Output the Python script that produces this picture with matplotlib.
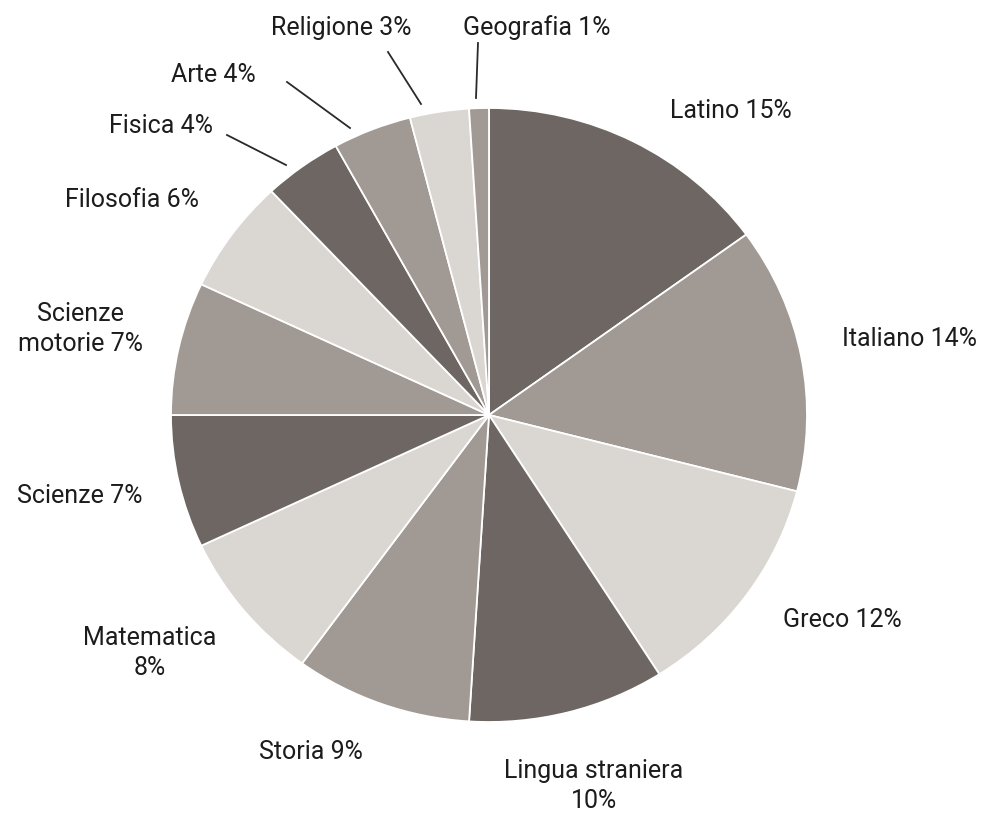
import matplotlib
matplotlib.use("Agg")
import matplotlib.pyplot as plt

# ore settimanali per materia (liceo classico)
subjects = ["Latino", "Italiano", "Greco", "Lingua straniera", "Storia",
            "Matematica", "Scienze", "Scienze motorie", "Filosofia",
            "Fisica", "Arte", "Religione", "Geografia"]
shares = [15, 14, 12, 10, 9, 8, 7, 7, 6, 4, 4, 3, 1]
label_texts = ["Latino 15%", "Italiano 14%", "Greco 12%",
               "Lingua straniera\n10%", "Storia 9%", "Matematica\n8%",
               "Scienze 7%", "Scienze\nmotorie 7%", "Filosofia 6%",
               "Fisica 4%", "Arte 4%", "Religione 3%", "Geografia 1%"]

DARK, MID, LIGHT = "#6d6662", "#a19994", "#dad6d2"
colors = [DARK, MID, LIGHT, DARK, MID, LIGHT, DARK, MID, LIGHT,
          DARK, MID, LIGHT, MID]

# layout in pixel of the 985x813 canvas
W, H = 985, 813
cx, cy, rx, ry = 489, 415, 318, 307
label_px = [(731, 111), (910, 339), (842, 620), (594, 786), (311, 752),
            (150, 653), (80, 496), (80, 329), (132, 200), (161, 126),
            (213, 75), (341, 28), (537, 28)]
leaders = {9: ((227, 135), (286, 165)),
           10: ((287, 82), (350, 128)),
           11: ((388, 52), (421, 104)),
           12: ((478, 43), (476, 98))}


def to_data(px, py):
    return (px - cx) / rx, (cy - py) / ry


plt.rcParams['font.family'] = ['Roboto', 'DejaVu Sans']

fig = plt.figure(figsize=(W / 100, H / 100), dpi=100)
ax = fig.add_axes([0, 0, 1, 1])
ax.pie(shares, colors=colors, startangle=90, counterclock=False,
       wedgeprops=dict(edgecolor="white", linewidth=1.3))
ax.set_aspect('auto')
ax.set_xlim(to_data(0, 0)[0], to_data(W, 0)[0])
ax.set_ylim(to_data(0, H)[1], to_data(0, 0)[1])
ax.axis('off')

for txt, (px, py) in zip(label_texts, label_px):
    x, y = to_data(px, py)
    ax.text(x, y, txt, ha="center", va="center", fontsize=18,
            color="#1c1c1c", linespacing=1.3)

for i, (p0, p1) in leaders.items():
    x0, y0 = to_data(*p0)
    x1, y1 = to_data(*p1)
    ax.plot([x0, x1], [y0, y1], color="#2a2a2a", lw=1.3)

fig.savefig("out.png", dpi=100, facecolor="white")
